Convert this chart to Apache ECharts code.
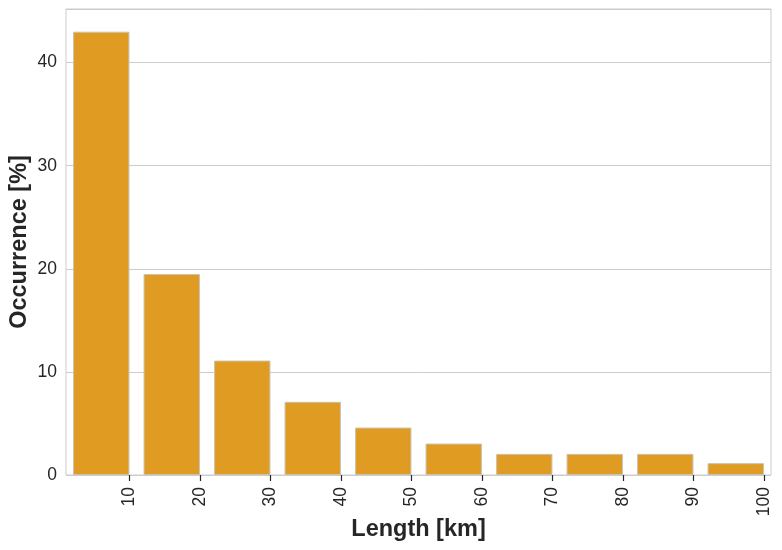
<!DOCTYPE html>
<html>
<head>
<meta charset="utf-8">
<script src="https://cdn.jsdelivr.net/npm/echarts@6/dist/echarts.min.js"></script>
<style>
  html, body { margin: 0; padding: 0; background: #fff; }
  #chart { width: 782px; height: 550px; }
</style>
</head>
<body>
<div id="chart"></div>
<script>
// length bins (km, upper edge) and share of occurrences (%)
const lengths = [10, 20, 30, 40, 50, 60, 70, 80, 90, 100];
const occurrence = [43.0, 19.5, 11.1, 7.1, 4.6, 3.05, 2.05, 2.05, 2.05, 1.15];
const yTicks = [0, 10, 20, 30, 40];

const textColor = '#262626';
const font = '"Liberation Sans", Arial, sans-serif';

const chart = echarts.init(document.getElementById('chart'));

chart.setOption({
  backgroundColor: '#ffffff',
  animation: false,
  grid: {
    left: 66, right: 11, top: 9, bottom: 75,
    outerBoundsMode: 'none',
    containLabel: false,
    show: true, borderColor: '#cccccc', borderWidth: 1
  },
  xAxis: [
    {
      // bars sit in bands, one per bin
      type: 'category',
      data: lengths,
      axisLine: { show: false },
      axisTick: { show: false },
      axisLabel: { show: false }
    },
    {
      // tick labels sit at the right edge of each bar (0.9 of a band)
      type: 'value',
      position: 'bottom',
      min: 1,
      max: 101,
      axisLine: { show: false },
      splitLine: { show: false },
      axisTick: { show: true, length: 6, lineStyle: { color: '#262626', width: 1.2 }, customValues: lengths },
      axisLabel: {
        customValues: lengths,
        rotate: 90,
        margin: 12,
        fontSize: 17.5,
        color: textColor,
        fontFamily: font
      },
      name: 'Length [km]',
      nameLocation: 'middle',
      nameMoveOverlap: false,
      nameGap: 43,
      nameTextStyle: { fontSize: 23.5, fontWeight: 'bold', color: textColor, fontFamily: font }
    }
  ],
  yAxis: {
    type: 'value',
    min: 0,
    max: 45.2,
    interval: 10,
    axisLine: { show: false },
    axisTick: { show: false },
    splitLine: { lineStyle: { color: '#cccccc', width: 1 } },
    axisLabel: {
      showMaxLabel: false,
      margin: 9,
      fontSize: 17.5,
      color: textColor,
      fontFamily: font,
      formatter: v => (yTicks.includes(v) ? String(v) : '')
    },
    name: 'Occurrence [%]',
    nameLocation: 'middle',
    nameMoveOverlap: false,
    nameGap: 34,
    nameTextStyle: { fontSize: 23.5, fontWeight: 'bold', color: textColor, fontFamily: font }
  },
  series: [{
    type: 'bar',
    xAxisIndex: 0,
    data: occurrence,
    barCategoryGap: '20%',
    itemStyle: { color: '#e09c22', borderColor: '#c9c2b4', borderWidth: 1 }
  }]
});
</script>
</body>
</html>
